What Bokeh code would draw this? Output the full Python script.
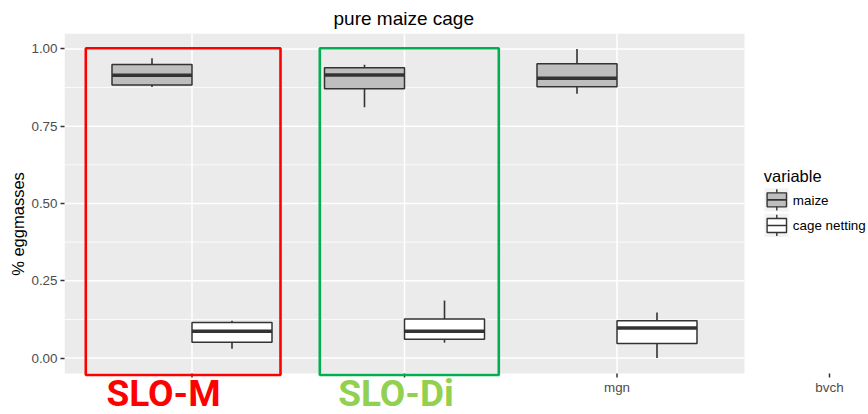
from bokeh.plotting import figure
from bokeh.models import Range1d, FixedTicker, PrintfTickFormatter, ColumnDataSource
from bokeh.core.properties import value
from bokeh.embed import file_html
from bokeh.resources import INLINE

# ---------------- data ----------------
categories = ["SLO-M", "SLO-Di", "mgn", "bvch"]
series = ["maize", "cage netting"]
series_fill = ["#BEBEBE", "#FFFFFF"]

maize_lower = [0.877, 0.811, 0.855]
maize_q1 = [0.883, 0.871, 0.878]
maize_median = [0.915, 0.916, 0.905]
maize_q3 = [0.950, 0.939, 0.952]
maize_upper = [0.970, 0.949, 1.000]

cage_lower = [0.030, 0.050, 0.000]
cage_q1 = [0.051, 0.061, 0.047]
cage_median = [0.087, 0.087, 0.097]
cage_q3 = [0.115, 0.126, 0.121]
cage_upper = [0.121, 0.186, 0.147]

y_ticks = [0.0, 0.25, 0.50, 0.75, 1.00]
y_minor = [0.125, 0.375, 0.625, 0.875]
x_tick_labels = ["", "", "mgn", "bvch"]
highlight_labels = ["SLO-M", "SLO-Di"]
highlight_text_colors = ["#FF0000", "#92D050"]
highlight_frame_colors = ["#FF0000", "#00B050"]

# ---------------- layout ----------------
W, H = 868, 414
PAGE_LEFT, PAGE_TOP = 64, 33     # frame origin in page px
PXX = 212.5                      # px per category unit
PANEL_H = 340
PY_MIN, PY_MAX = -0.05, 1.05     # panel limits (ggplot expansion)
PXY = PANEL_H / (PY_MAX - PY_MIN)
FRAME_W, FRAME_H = W - PAGE_LEFT, H - PAGE_TOP
X0 = 0.4
X1 = X0 + FRAME_W / PXX
Y1 = PY_MAX
Y0 = Y1 - FRAME_H / PXY


def dx(px):
    return X0 + (px - PAGE_LEFT) / PXX


def dy(py):
    return Y1 - (py - PAGE_TOP) / PXY


FONT = "Liberation Sans"
n_cat = len(maize_median)
cat_x = [i + 1 for i in range(n_cat)]
all_x = [i + 1 for i in range(len(categories))]
panel_l, panel_r = 1 - 0.6, n_cat + 0.6
BW = 80 / PXX

p = figure(width=W, height=H, x_range=Range1d(X0, X1), y_range=Range1d(Y0, Y1),
           output_backend="svg", toolbar_location=None, x_axis_location=None,
           min_border_left=PAGE_LEFT, min_border_right=0,
           min_border_top=PAGE_TOP, min_border_bottom=0)
p.outline_line_color = None
p.background_fill_color = "white"
p.border_fill_color = "white"
p.xgrid.visible = False
p.ygrid.visible = False

# title
p.title.text = "pure maize cage"
p.title.align = "left"
p.title.offset = 269
p.title.standoff = 10
p.title.text_font = FONT
p.title.text_font_style = "normal"
p.title.text_font_size = "19px"
p.title.text_color = "black"

# panel
p.quad(left=[panel_l], right=[panel_r], bottom=[PY_MIN], top=[PY_MAX], fill_color="#EBEBEB", line_color=None)
# grid
p.segment(x0=[panel_l] * len(y_minor), x1=[panel_r] * len(y_minor), y0=y_minor, y1=y_minor,
          line_color="white", line_width=0.8)
p.segment(x0=[panel_l] * len(y_ticks), x1=[panel_r] * len(y_ticks), y0=y_ticks, y1=y_ticks,
          line_color="white", line_width=1.5)
p.segment(x0=cat_x, x1=cat_x, y0=[PY_MIN] * n_cat, y1=[PY_MAX] * n_cat, line_color="white", line_width=1.5)


# boxplots
def draw_box(offset_sign, lower, q1, med, q3, upper, fill):
    if offset_sign < 0:
        left = [x - BW for x in cat_x]
        right = list(cat_x)
    else:
        left = list(cat_x)
        right = [x + BW for x in cat_x]
    mid = [(a + b) / 2 for a, b in zip(left, right)]
    src = ColumnDataSource(dict(left=left, right=right, mid=mid, lower=lower, q1=q1,
                                med=med, q3=q3, upper=upper))
    p.segment(x0="mid", x1="mid", y0="q3", y1="upper", source=src, line_color="#333333", line_width=1.6)
    p.segment(x0="mid", x1="mid", y0="lower", y1="q1", source=src, line_color="#333333", line_width=1.6)
    p.quad(left="left", right="right", bottom="q1", top="q3", source=src, fill_color=fill,
           line_color="#333333", line_width=1.5)
    p.segment(x0="left", x1="right", y0="med", y1="med", source=src, line_color="#333333", line_width=3.5)


draw_box(-1, maize_lower, maize_q1, maize_median, maize_q3, maize_upper, series_fill[0])
draw_box(1, cage_lower, cage_q1, cage_median, cage_q3, cage_upper, series_fill[1])

# x axis (drawn in the frame, below the panel)
tick_top = PY_MIN
tick_bot = PY_MIN - 4 / PXY
p.segment(x0=all_x, x1=all_x, y0=[tick_top] * len(all_x), y1=[tick_bot] * len(all_x),
          line_color="#333333", line_width=1.5)
p.text(x=all_x, y=[dy(387)] * len(all_x), text=x_tick_labels, text_align="center",
       text_baseline="middle", text_font=value(FONT), text_font_size="13.4px", text_color="#4D4D4D")

# y axis
p.yaxis.ticker = FixedTicker(ticks=y_ticks)
p.yaxis.formatter = PrintfTickFormatter(format="%.2f")
ax = p.yaxis[0]
ax.axis_line_color = None
ax.major_tick_line_color = "#333333"
ax.major_tick_line_width = 1.5
ax.major_tick_out = 4
ax.major_tick_in = 0
ax.minor_tick_line_color = None
ax.major_label_text_color = "#4D4D4D"
ax.major_label_text_font = FONT
ax.major_label_text_font_size = "13.4px"
ax.major_label_standoff = 3
ax.axis_label = "% eggmasses"
ax.axis_label_text_font = FONT
ax.axis_label_text_font_style = "normal"
ax.axis_label_text_font_size = "16.5px"
ax.axis_label_text_color = "black"
ax.axis_label_standoff = 1

# highlight frames and labels
frames = [(85.3, 280.0), (319.3, 498.3)]
label_cx = [163, 395.5]
for (l, r), fc in zip(frames, highlight_frame_colors):
    p.quad(left=[dx(l)], right=[dx(r)], top=[dy(47.8)], bottom=[dy(374.5)], fill_color=None,
           line_color=fc, line_width=2.6)
p.text(x=[dx(c) for c in label_cx], y=[dy(392.5)] * len(label_cx), text=highlight_labels,
       text_align="center", text_baseline="middle", text_font=value("Roboto"),
       text_font_style="bold", text_font_size="37px", text_color=highlight_text_colors)

# legend
p.text(x=[dx(763.3)], y=[dy(175)], text=["variable"], text_baseline="middle",
       text_font=value(FONT), text_font_size="16.5px", text_color="black")
key_tops = [187.7, 213.3]
for kt, name, fill in zip(key_tops, series, series_fill):
    kb = kt + 23.3
    kc = (kt + kb) / 2
    p.quad(left=[dx(764)], right=[dx(788)], top=[dy(kt)], bottom=[dy(kb)],
           fill_color="#F2F2F2", line_color=None)
    xc = 776.3
    p.segment(x0=[dx(xc)], x1=[dx(xc)], y0=[dy(kt + 1)], y1=[dy(kb - 1)], line_color="#333333", line_width=1.4)
    p.quad(left=[dx(766.6)], right=[dx(786)], top=[dy(kc - 7)], bottom=[dy(kc + 7)],
           fill_color=fill, line_color="#333333", line_width=1.4)
    p.segment(x0=[dx(766.6)], x1=[dx(786)], y0=[dy(kc)], y1=[dy(kc)], line_color="#333333",
              line_width=1.6)
    p.text(x=[dx(792.3)], y=[dy(kc + 0.5)], text=[name], text_baseline="middle",
           text_font=value(FONT), text_font_size="13.4px", text_color="black")

open("out.html", "w").write(file_html(p, INLINE))
